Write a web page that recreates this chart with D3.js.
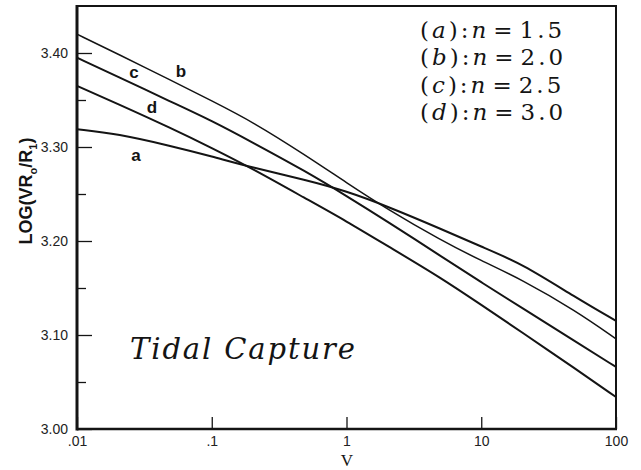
<!DOCTYPE html>
<html>
<head>
<meta charset="utf-8">
<script src="https://cdn.jsdelivr.net/npm/d3@7"></script>
<style>
  body { margin: 0; background: #fff; }
  svg { display: block; }
</style>
</head>
<body>
<svg id="chart" width="641" height="470"></svg>
<script>
// V sample points, shared by every curve
var vValues = [0.01, 0.02, 0.05, 0.1, 0.2, 0.5, 1, 2, 5, 10, 20, 50, 100];

// LOG(V R0/R1)
var curveA = [3.319, 3.314, 3.301, 3.290, 3.278, 3.265, 3.253, 3.237, 3.213, 3.194, 3.176, 3.140, 3.115];
var curveB = [3.420, 3.399, 3.371, 3.349, 3.327, 3.291, 3.262, 3.234, 3.201, 3.179, 3.159, 3.126, 3.096];
var curveC = [3.395, 3.375, 3.348, 3.328, 3.305, 3.274, 3.248, 3.221, 3.184, 3.156, 3.129, 3.093, 3.066];
var curveD = [3.365, 3.346, 3.320, 3.299, 3.277, 3.245, 3.221, 3.195, 3.161, 3.132, 3.103, 3.064, 3.034];

var xTicks = [0.01, 0.1, 1, 10, 100];
var xTickLabels = ['.01', '.1', '1', '10', '100'];
var yMajor = [3.00, 3.10, 3.20, 3.30, 3.40];
var yMinor = [3.05, 3.15, 3.25, 3.35];

var legendKeys = ['a', 'b', 'c', 'd'];
var legendN = ['1.5', '2.0', '2.5', '3.0'];

(function(){
    'use strict';

    var svg = d3.select('#chart'),
        pLeft = 77, pRight = 616, pTop = 6, pBottom = 429,
        ink = '#141414';

    var x = d3.scaleLog().domain([0.01, 100]).range([pLeft, pRight]);
    var y = d3.scaleLinear().domain([3.0, 3.45]).range([pBottom, pTop]);

    svg.append('rect').attr('width', 641).attr('height', 470).attr('fill', '#fff');

    // y ticks point inward
    svg.append('g')
        .attr('transform', 'translate(' + pLeft + ',0)')
        .call(d3.axisLeft(y).tickValues(yMajor).tickSize(-15).tickPadding(9)
            .tickFormat(d3.format('.2f')));
    svg.append('g')
        .attr('transform', 'translate(' + pLeft + ',0)')
        .call(d3.axisLeft(y).tickValues(yMinor).tickSize(-9).tickFormat(''));

    svg.append('g')
        .attr('transform', 'translate(0,' + pBottom + ')')
        .call(d3.axisBottom(x).tickValues(xTicks).tickSize(-12).tickPadding(7)
            .tickFormat(function(d, i){ return xTickLabels[i]; }));

    svg.selectAll('.domain').remove();
    svg.selectAll('.tick line').attr('stroke', ink).attr('stroke-width', 1.3);
    svg.selectAll('.tick text')
        .attr('fill', '#222')
        .style('font-family', '"Liberation Sans", Arial, sans-serif')
        .style('font-size', '14px');

    // frame
    svg.append('path')
        .attr('d', 'M' + pLeft + ',' + pTop + 'H' + pRight + 'V' + pBottom)
        .attr('fill', 'none').attr('stroke', ink).attr('stroke-width', 2);
    svg.append('line')
        .attr('x1', pLeft).attr('x2', pLeft).attr('y1', pTop - 1).attr('y2', pBottom + 1.5)
        .attr('stroke', ink).attr('stroke-width', 3);
    svg.append('line')
        .attr('x1', pLeft).attr('x2', pRight + 1).attr('y1', pBottom).attr('y2', pBottom)
        .attr('stroke', ink).attr('stroke-width', 2.5);

    var line = d3.line()
        .x(function(d, i){ return x(vValues[i]); })
        .y(function(d){ return y(d); })
        .curve(d3.curveBasis);

    [[curveA, 2], [curveB, 1.5], [curveC, 2], [curveD, 2]].forEach(function(c){
        svg.append('path')
            .attr('d', line(c[0]))
            .attr('fill', 'none')
            .attr('stroke', ink)
            .attr('stroke-width', c[1])
            .attr('stroke-linejoin', 'round');
    });

    // curve letters
    var letterPos = [[136, 155], [181, 71], [134, 72], [152, 107]];
    legendKeys.forEach(function(k, i){
        svg.append('text')
            .attr('x', letterPos[i][0]).attr('y', letterPos[i][1])
            .attr('text-anchor', 'middle').attr('dominant-baseline', 'central')
            .style('font-family', '"Liberation Sans", Arial, sans-serif')
            .style('font-weight', 'bold').style('font-size', '17px')
            .attr('fill', ink)
            .text(k);
    });

    // legend block
    legendKeys.forEach(function(k, i){
        var t = svg.append('text')
            .attr('x', 420).attr('y', 38 + i * 27.3)
            .style('font-family', '"DejaVu Serif", serif')
            .style('font-size', '23px')
            .style('letter-spacing', '3px')
            .attr('fill', ink);
        t.append('tspan').text('(');
        t.append('tspan').style('font-style', 'italic').text(k);
        t.append('tspan').text('):');
        t.append('tspan').style('font-style', 'italic').text('n');
        t.append('tspan').attr('dx', 4).text('=');
        t.append('tspan').attr('dx', 4).text(legendN[i]);
    });

    svg.append('text')
        .attr('x', 130).attr('y', 359)
        .attr('textLength', 225).attr('lengthAdjust', 'spacing')
        .style('font-family', '"DejaVu Serif", serif')
        .style('font-style', 'italic').style('font-size', '29px')
        .attr('fill', ink)
        .text('Tidal Capture');

    svg.append('text')
        .attr('x', 347).attr('y', 466)
        .attr('text-anchor', 'middle')
        .style('font-family', '"Liberation Serif", "Times New Roman", serif')
        .style('font-size', '17px')
        .attr('fill', ink)
        .text('V');

    var yl = svg.append('text')
        .attr('transform', 'translate(32,191) rotate(-90)')
        .attr('text-anchor', 'middle')
        .style('font-family', '"Liberation Sans", Arial, sans-serif')
        .style('font-weight', 'bold').style('font-size', '18px')
        .attr('fill', ink);
    yl.append('tspan').text('LOG(VR');
    yl.append('tspan').attr('dy', 5).style('font-size', '11px').text('o');
    yl.append('tspan').attr('dy', -5).text('/R');
    yl.append('tspan').attr('dy', 5).style('font-size', '11px').text('1');
    yl.append('tspan').attr('dy', -5).text(')');
})();
</script>
</body>
</html>
